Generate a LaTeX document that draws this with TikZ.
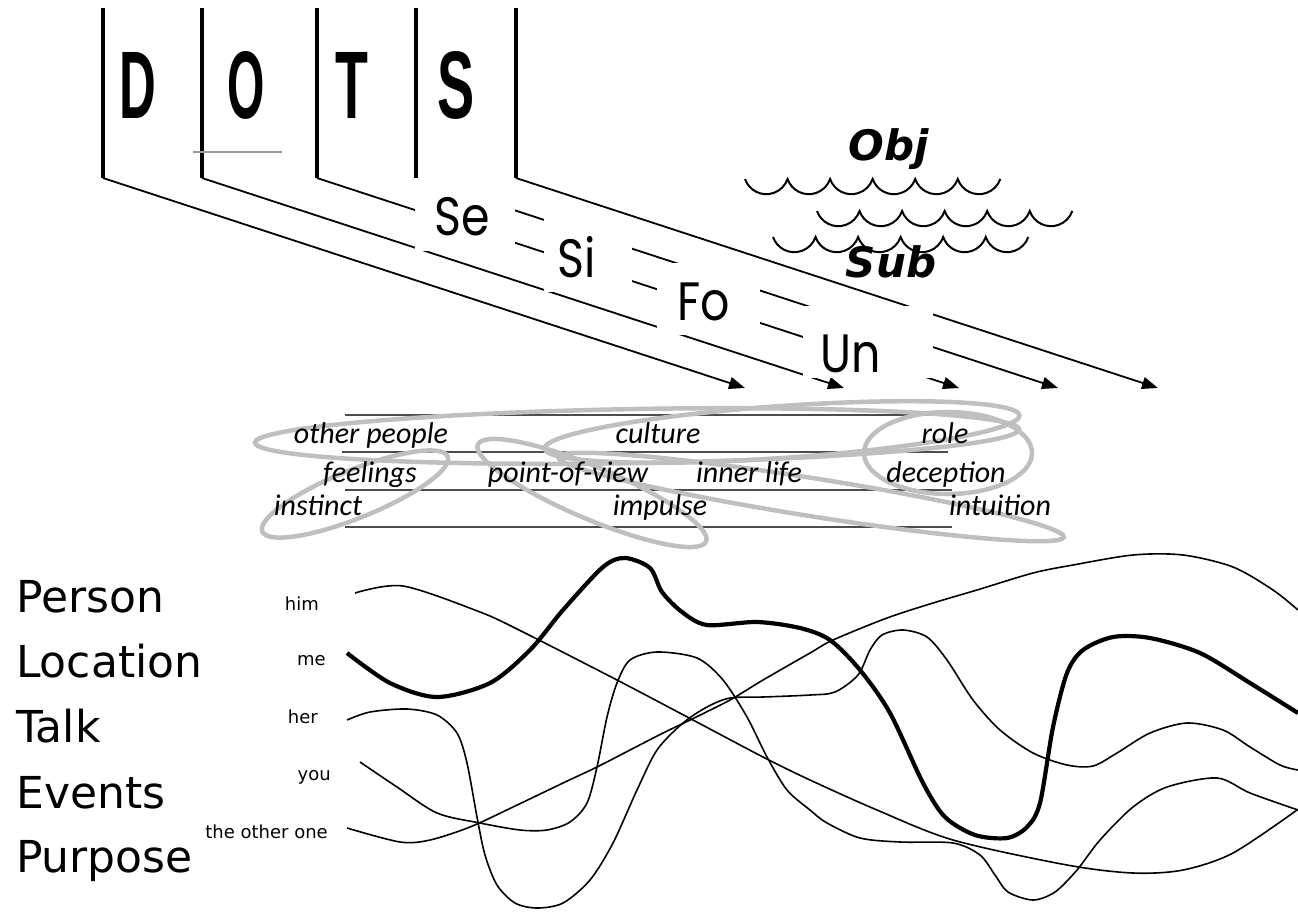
\documentclass[tikz,border=0pt]{standalone}
\usepackage{fontspec}
\usepackage{tikz}
\usetikzlibrary{arrows.meta}
\newfontfamily\blockfont{Liberation Sans}
\newfontfamily\thinfont{Poppins}
\newfontfamily\handfont{DejaVu Sans}
\newfontfamily\slimfont{Carlito}

\begin{document}
\begin{tikzpicture}[x=1pt,y=-1pt]
\tikzstyle{bar}=[line width=4.5pt]
\tikzstyle{ray}=[line width=1.8pt,-{Triangle[length=16pt,width=12pt]}]
\tikzstyle{letter}=[font=\blockfont\bfseries\fontsize{96}{96}\selectfont,anchor=base,inner sep=0pt]
\tikzstyle{sense}=[font=\thinfont\fontsize{54}{54}\selectfont,anchor=base,inner sep=0pt]
\tikzstyle{pole}=[font=\handfont\bfseries\itshape\fontsize{42}{42}\selectfont,anchor=base,inner sep=0pt]
\tikzstyle{wave}=[line width=2pt]
\tikzstyle{halo}=[draw=black!25,line width=4.5pt]
\tikzstyle{rule}=[draw=black!70,line width=1.3pt]
\tikzstyle{word}=[font=\slimfont\itshape\fontsize{30}{30}\selectfont,anchor=base,inner sep=0pt]
\tikzstyle{topic}=[font=\handfont\fontsize{44}{44}\selectfont,anchor=base west,inner sep=0pt]
\tikzstyle{who}=[font=\handfont\fontsize{18}{18}\selectfont,anchor=base east,inner sep=0pt]
\tikzstyle{track}=[line width=1.6pt,line join=round]
\useasboundingbox (0,0) rectangle (1298,911);

% feet of the bars and ends of the rays
\coordinate (d) at (103,178);
\coordinate (o) at (202,178);
\coordinate (t) at (317,178);
\coordinate (s) at (416,178);
\coordinate (e) at (516,178);
\coordinate (dtip) at (745,388);
\coordinate (otip) at (844,388);
\coordinate (ttip) at (959,388);
\coordinate (stip) at (1058,388);
\coordinate (etip) at (1158,388);
\draw[ray] (d) -- (dtip);
\draw[ray] (o) -- (otip);
\draw[ray] (t) -- (ttip);
\draw[ray] (s) -- (stip);
\draw[ray] (e) -- (etip);

% white boxes behind the labels
\fill[white] (415,177) rectangle (515,251);
\fill[white] (544,219) rectangle (632,292);
\fill[white] (657,263) rectangle (760,335);
\fill[white] (803,306) rectangle (933,378);
\node[sense] (se) at (462,235) {\scalebox{0.85}[1]{Se}};
\node[sense] (si) at (577,277) {\scalebox{0.85}[1]{Si}};
\node[sense] (fo) at (704,320) {\scalebox{0.85}[1]{Fo}};
\node[sense] (un) at (851,372) {\scalebox{0.85}[1]{Un}};

\foreach \x in {103,202,317,416,516}
  \draw[bar] (\x,8) -- (\x,178);
\draw[black!40,line width=1.5pt] (193,152) -- (282,152);
\node[letter] (dl) at (138,118) {\scalebox{0.53}[1]{D}};
\node[letter] (ol) at (246,118) {\scalebox{0.5}[1]{O}};
\node[letter] (tl) at (352,118) {\scalebox{0.56}[1]{T}};
\node[letter] (sl) at (456,118) {\scalebox{0.58}[1]{S}};

% waves
\foreach \x/\y in {745/179,817/211,773/237}
  \draw[wave] (\x,\y) \foreach \i in {1,...,6} {arc[start angle=161,end angle=19,radius=22.5]};
\node[pole] (obj) at (889,160) {Obj};
\node[pole] (sub) at (891,277) {Sub};

% lined sheet
\foreach \y/\a/\b in {415/345/952,452/342/948,490/345/952,527/345/952}
  \draw[rule] (\a,\y) -- (\b,\y);
\draw[halo,rotate around={1:(637,436)}] (637,436) ellipse [x radius=382,y radius=27];
\draw[halo,rotate around={4:(782,432)}] (782,432) ellipse [x radius=238,y radius=26];
\draw[halo] (948,453) ellipse [x radius=84,y radius=41];
\draw[halo,rotate around={22:(355,494)}] (355,494) ellipse [x radius=100,y radius=24];
\draw[halo,rotate around={-23:(592,493)}] (592,493) ellipse [x radius=124,y radius=26];
\draw[halo,rotate around={-9:(811,497)}] (811,497) ellipse [x radius=256,y radius=19];
\node[word] (people) at (371,443) {other people};
\node[word] (culture) at (658,443) {culture};
\node[word] (role) at (945,443) {role};
\node[word] (feelings) at (370,482) {feelings};
\node[word] (pov) at (568,482) {point-of-view};
\node[word] (inner) at (749,482) {inner life};
\node[word] (deception) at (946,482) {deception};
\node[word] (instinct) at (318,515) {instinct};
\node[word] (impulse) at (660,515) {impulse};
\node[word] (intuition) at (1000,515) {intuition};

% left column
\node[topic] (person) at (16,612) {Person};
\node[topic] (location) at (16,677) {Location};
\node[topic] (talk) at (16,742) {Talk};
\node[topic] (events) at (16,808) {Events};
\node[topic] (purpose) at (16,872) {Purpose};
\node[who] (him) at (319,610) {him};
\node[who] (me) at (326,665) {me};
\node[who] (her) at (318,723) {her};
\node[who] (you) at (331,780) {you};
\node[who] (other) at (328,838) {the other one};

% threads
\draw[track] plot[smooth,tension=0.5] coordinates {(355,593) (403,586) (480,612) (523,632) (617,680) (693,720) (763,757) (810,780) (877,810) (953,840) (1067,865) (1133,873) (1183,870) (1233,853) (1297,810)};
\draw[track,line width=4.2pt] plot[smooth,tension=0.5] coordinates {(347,653) (390,683) (437,697) (490,683) (530,650) (563,610) (603,567) (625,558) (650,568) (662,592) (682,612) (707,625) (757,622) (800,628) (830,640) (860,670) (890,713) (923,783) (945,817) (975,835) (1007,838) (1027,827) (1040,803) (1053,727) (1067,673) (1083,650) (1113,637) (1150,638) (1200,653) (1250,683) (1298,713)};
\draw[track] plot[smooth,tension=0.5] coordinates {(347,720) (370,712) (407,709) (437,715) (457,733) (467,763) (477,817) (485,855) (497,885) (515,903) (537,908) (563,903) (590,880) (613,843) (637,790) (657,750) (683,723) (707,707) (730,698) (763,697) (810,695) (835,692) (858,675) (870,650) (882,635) (903,630) (927,637) (947,660) (973,700) (1000,730) (1033,753) (1067,765) (1093,766) (1117,753) (1150,733) (1187,723) (1223,730) (1250,747) (1280,765) (1298,770)};
\draw[track] plot[smooth,tension=0.5] coordinates {(360,762) (397,787) (437,813) (480,823) (520,830) (547,830) (570,822) (587,803) (597,767) (607,717) (617,683) (630,660) (657,652) (697,658) (723,680) (747,717) (767,757) (787,790) (810,810) (827,823) (860,838) (900,842) (953,843) (980,855) (995,875) (1008,892) (1033,900) (1055,892) (1077,870) (1100,840) (1133,807) (1167,787) (1217,778) (1250,793) (1298,810)};
\draw[track] plot[smooth,tension=0.5] coordinates {(347,828) (400,842) (430,840) (470,827) (513,807) (563,783) (597,767) (630,750) (663,733) (690,720) (730,700) (763,680) (810,653) (833,640) (887,618) (933,603) (977,590) (1033,573) (1073,565) (1133,555) (1183,555) (1233,567) (1273,590) (1298,610)};
\end{tikzpicture}
\end{document}
